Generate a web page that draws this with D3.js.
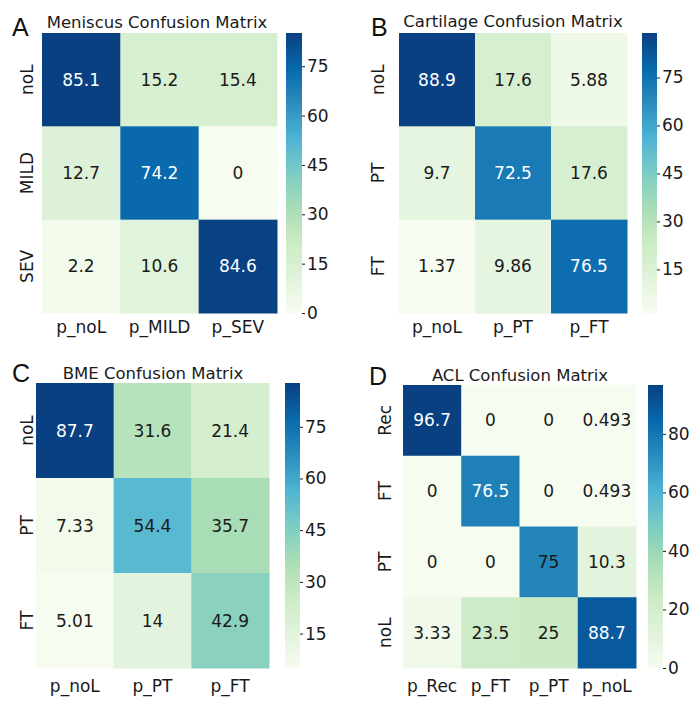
<!DOCTYPE html>
<html><head><meta charset="utf-8">
<script src="https://cdn.jsdelivr.net/npm/d3@7"></script>
<style>body{margin:0;background:#fff}svg{display:block}</style>
</head><body><svg id="c" width="700" height="706"></svg>
<script>
// ---- data ----
const meniscusRows = ["noL","MILD","SEV"];
const meniscusCols = ["p_noL","p_MILD","p_SEV"];
const meniscusValues = [[85.1,15.2,15.4],[12.7,74.2,0],[2.2,10.6,84.6]];
const meniscusLabels = [["85.1","15.2","15.4"],["12.7","74.2","0"],["2.2","10.6","84.6"]];
const meniscusTicks = [0,15,30,45,60,75];

const cartilageRows = ["noL","PT","FT"];
const cartilageCols = ["p_noL","p_PT","p_FT"];
const cartilageValues = [[88.9,17.6,5.88],[9.7,72.5,17.6],[1.37,9.86,76.5]];
const cartilageLabels = [["88.9","17.6","5.88"],["9.7","72.5","17.6"],["1.37","9.86","76.5"]];
const cartilageTicks = [15,30,45,60,75];

const bmeRows = ["noL","PT","FT"];
const bmeCols = ["p_noL","p_PT","p_FT"];
const bmeValues = [[87.7,31.6,21.4],[7.33,54.4,35.7],[5.01,14,42.9]];
const bmeLabels = [["87.7","31.6","21.4"],["7.33","54.4","35.7"],["5.01","14","42.9"]];
const bmeTicks = [15,30,45,60,75];

const aclRows = ["Rec","FT","PT","noL"];
const aclCols = ["p_Rec","p_FT","p_PT","p_noL"];
const aclValues = [[96.7,0,0,0.493],[0,76.5,0,0.493],[0,0,75,10.3],[3.33,23.5,25,88.7]];
const aclLabels = [["96.7","0","0","0.493"],["0","76.5","0","0.493"],["0","0","75","10.3"],["3.33","23.5","25","88.7"]];
const aclTicks = [0,20,40,60,80];

const titles = ["Meniscus Confusion Matrix","Cartilage Confusion Matrix","BME Confusion Matrix","ACL Confusion Matrix"];
const letters = ["A","B","C","D"];

// GnBu (ColorBrewer 9-class, linearly interpolated like matplotlib)
const gnbuStops = ["#f7fcf0","#e0f3db","#ccebc5","#a8ddb5","#7bccc4","#4eb3d3","#2b8cbe","#0868ac","#084081"];
const gnbu = d3.piecewise(d3.interpolateRgb, gnbuStops);

// ---- layout ----
const layout = [
  {hx0:42, hx1:277, hy0:33, hy1:313, cb0:286, cb1:302, tx:157, ty:28, lx:12, ly:36, rlx:27, xly:333},
  {hx0:399, hx1:627, hy0:33, hy1:313, cb0:642, cb1:657, tx:513, ty:27, lx:371, ly:36, rlx:378, xly:333},
  {hx0:36, hx1:269, hy0:383, hy1:668, cb0:285, cb1:300, tx:153, ty:379, lx:12, ly:382, rlx:27, xly:692},
  {hx0:403, hx1:636, hy0:385, hy1:668, cb0:648, cb1:663, tx:520, ty:381, lx:369, ly:385, rlx:385, xly:692}
];
const panels = [
  {rows:meniscusRows, cols:meniscusCols, values:meniscusValues, labels:meniscusLabels, ticks:meniscusTicks},
  {rows:cartilageRows, cols:cartilageCols, values:cartilageValues, labels:cartilageLabels, ticks:cartilageTicks},
  {rows:bmeRows, cols:bmeCols, values:bmeValues, labels:bmeLabels, ticks:bmeTicks},
  {rows:aclRows, cols:aclCols, values:aclValues, labels:aclLabels, ticks:aclTicks}
];

const svg = d3.select("#c");
const FONT = "DejaVu Sans, sans-serif";

panels.forEach((p, i) => {
  const L = layout[i];
  const all = p.values.flat();
  const vmin = d3.min(all), vmax = d3.max(all);
  const color = d3.scaleSequential(gnbu).domain([vmin, vmax]);
  const x = d3.scaleBand().domain(p.cols).range([L.hx0, L.hx1]);
  const y = d3.scaleBand().domain(p.rows).range([L.hy0, L.hy1]);
  const g = svg.append("g");

  const cells = [];
  p.rows.forEach((r, ri) => p.cols.forEach((c, ci) => cells.push({r, c, v:p.values[ri][ci], t:p.labels[ri][ci]})));

  g.selectAll("rect.cell").data(cells).join("rect")
    .attr("x", d => x(d.c)).attr("y", d => y(d.r))
    .attr("width", x.bandwidth()+0.5).attr("height", y.bandwidth()+0.5)
    .attr("fill", d => color(d.v));

  g.selectAll("text.val").data(cells).join("text")
    .attr("x", d => x(d.c) + x.bandwidth()/2)
    .attr("y", d => y(d.r) + y.bandwidth()/2)
    .attr("dy", "0.36em")
    .attr("text-anchor", "middle")
    .attr("font-family", FONT).attr("font-size", 17)
    .attr("fill", d => {
      const c = d3.rgb(color(d.v));
      const lum = 0.2126*c.r/255 + 0.7152*c.g/255 + 0.0722*c.b/255;
      return lum < 0.45 ? "#ffffff" : "#1a1a1a";
    })
    .text(d => d.t);

  // x labels
  g.selectAll("text.xl").data(p.cols).join("text")
    .attr("x", d => x(d) + x.bandwidth()/2).attr("y", L.xly)
    .attr("text-anchor", "middle").attr("font-family", FONT).attr("font-size", 17)
    .attr("fill", "#1a1a1a").text(d => d);

  // y labels (rotated)
  g.selectAll("text.yl").data(p.rows).join("text")
    .attr("transform", d => `translate(${L.rlx},${y(d) + y.bandwidth()/2}) rotate(-90)`)
    .attr("dy", "0.36em")
    .attr("text-anchor", "middle").attr("font-family", FONT).attr("font-size", 17)
    .attr("fill", "#1a1a1a").text(d => d);

  // title
  g.append("text").attr("x", L.tx).attr("y", L.ty).attr("text-anchor", "middle")
    .attr("font-family", FONT).attr("font-size", 16.5).attr("fill", "#1a1a1a").text(titles[i]);

  // letter
  g.append("text").attr("x", L.lx).attr("y", L.ly)
    .attr("font-family", "Liberation Sans, sans-serif").attr("font-size", 25).attr("fill", "#111").text(letters[i]);

  // colorbar
  const cy = d3.scaleLinear().domain([vmin, vmax]).range([L.hy1, L.hy0]);
  const gradId = "grad" + i;
  const grad = svg.append("defs").append("linearGradient").attr("id", gradId)
    .attr("x1", 0).attr("y1", 1).attr("x2", 0).attr("y2", 0);
  d3.range(0, 1.0001, 0.125).forEach(t => {
    grad.append("stop").attr("offset", t).attr("stop-color", color(vmin + t*(vmax - vmin)));
  });
  g.append("rect").attr("x", L.cb0).attr("y", L.hy0).attr("width", L.cb1 - L.cb0).attr("height", L.hy1 - L.hy0)
    .attr("fill", `url(#${gradId})`);
  const axis = d3.axisRight(cy).tickValues(p.ticks).tickSize(3).tickPadding(2).tickFormat(d3.format("d"));
  const ag = g.append("g").attr("transform", `translate(${L.cb1},0)`).call(axis);
  ag.select(".domain").remove();
  ag.selectAll("line").attr("stroke", "#1a1a1a");
  ag.selectAll("text").attr("font-family", FONT).attr("font-size", 17).attr("fill", "#1a1a1a");
});
</script></body></html>
